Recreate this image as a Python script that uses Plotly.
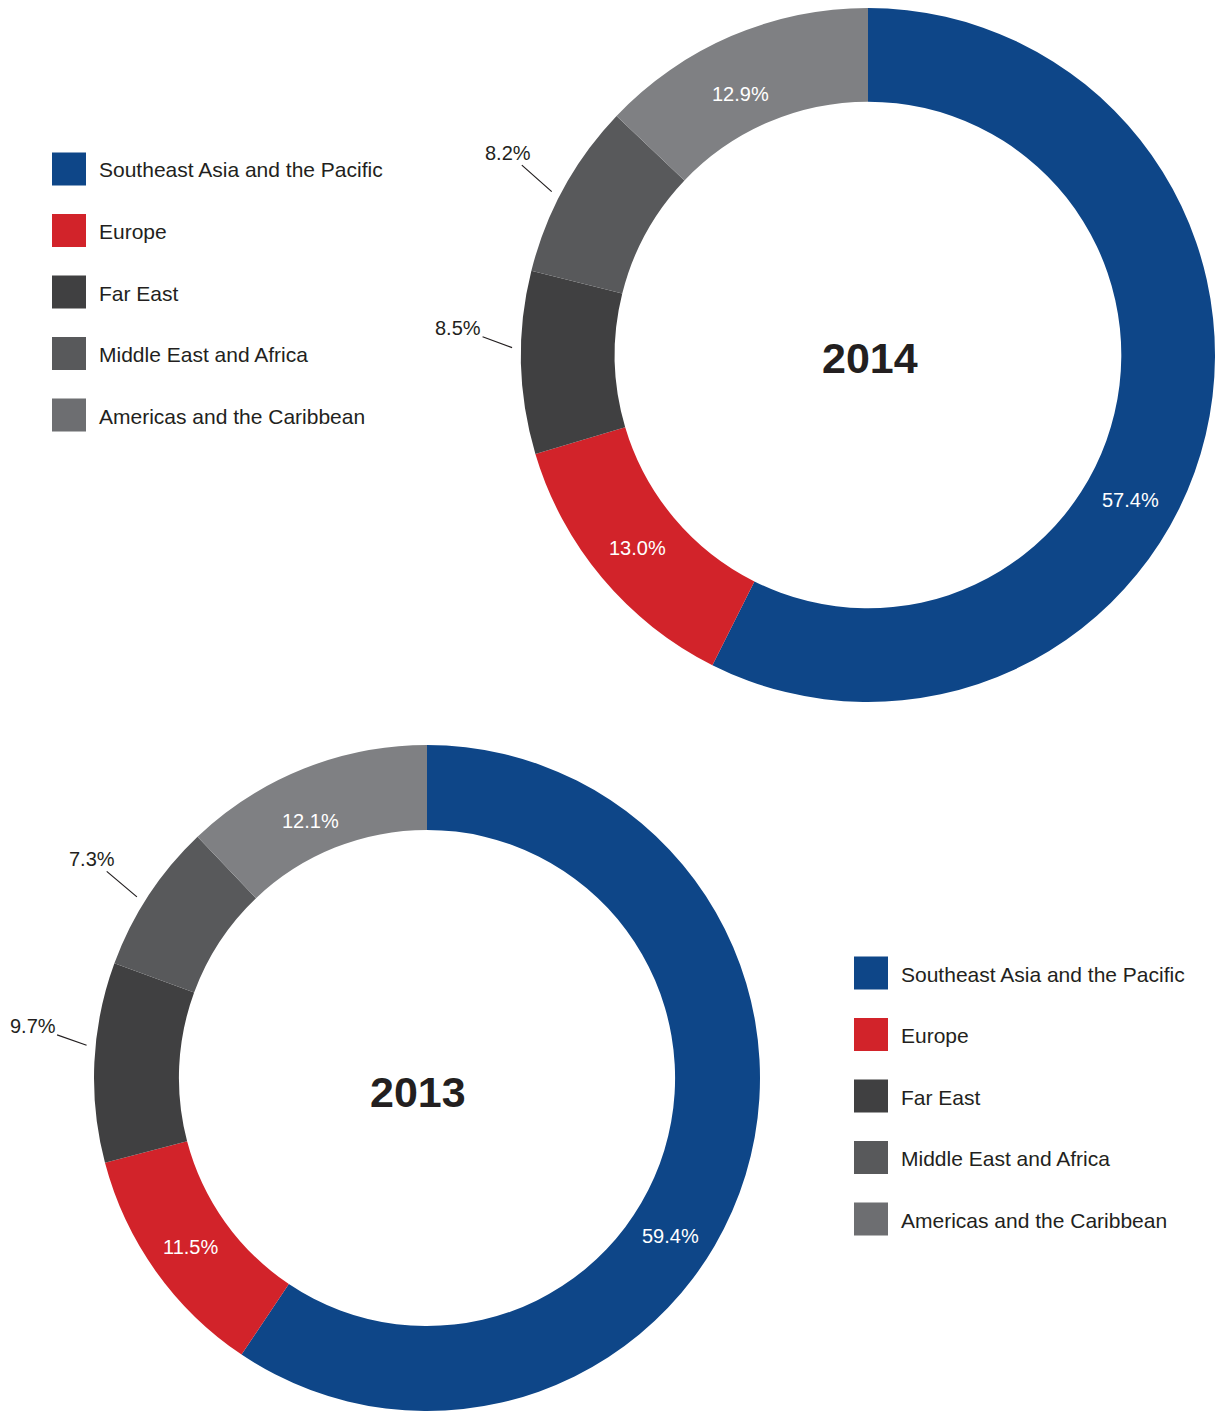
import math
import plotly.graph_objects as go

# ---- data ----
regions = ["Southeast Asia and the Pacific", "Europe", "Far East",
           "Middle East and Africa", "Americas and the Caribbean"]
share_2014 = [57.4, 13.0, 8.5, 8.2, 12.9]
share_2013 = [59.4, 11.5, 9.7, 7.3, 12.1]
years = ["2014", "2013"]

# ---- style ----
W, H = 1217, 1411
slice_colors = ["#0e4688", "#d2232a", "#404041", "#58595b", "#7f8083"]
legend_colors = ["#0e4688", "#d2232a", "#404041", "#58595b", "#6d6e71"]
text_col = "#231f20"
FONT = "Liberation Sans, Arial, Helvetica, sans-serif"
# where labels sit along each slice (fraction of its angular span)
label_frac = [0.575, 0.5, 0.58, 0.45, 0.44]
# radial position of inside labels (fraction between hole edge and rim)
label_rad = [0.5, 0.5, 0.5, 0.5, 0.4]

# pie layout in page pixels: center x, center y, radius, hole
pies = [
    dict(cx=868, cy=355, r=347, hole=0.73, vals=share_2014, year=years[0],
         yearpos=(870, 358),
         outside={2: (-54, -20), 3: (-44, -39)}),
    dict(cx=427, cy=1078, r=333, hole=0.745, vals=share_2013, year=years[1],
         yearpos=(418, 1092),
         outside={2: (-54, -19), 3: (-45, -38)}),
]
legends = [dict(x=52, y0=169), dict(x=854, y0=973)]
leg_step = 61.5


def px(x):
    return x / W


def py(y):
    return 1 - y / H


fig = go.Figure()
annotations = []
shapes = []

for p in pies:
    vals = p["vals"]
    texts = [f"{v:.1f}%" for v in vals]
    fig.add_trace(go.Pie(
        labels=regions, values=vals, textinfo="none",
        sort=False, direction="clockwise", rotation=0, hole=p["hole"],
        marker=dict(colors=slice_colors, line=dict(width=0)),
        domain=dict(x=[px(p["cx"] - p["r"]), px(p["cx"] + p["r"])],
                    y=[max(0, py(p["cy"] + p["r"])), py(p["cy"] - p["r"])]),
        showlegend=False, hoverinfo="label+percent",
    ))
    total = sum(vals)
    cum = 0.0
    for i, v in enumerate(vals):
        start = cum / total * 2 * math.pi
        span = v / total * 2 * math.pi
        cum += v
        ang = start + span * label_frac[i]
        if i in p["outside"]:
            rr = p["r"] + 9
            tx = p["cx"] + rr * math.sin(ang)
            ty = p["cy"] - rr * math.cos(ang)
            axo, ayo = p["outside"][i]
            annotations.append(dict(
                x=px(tx), y=py(ty), xref="paper", yref="paper",
                text=texts[i], showarrow=True, arrowhead=0, arrowwidth=1.2,
                arrowcolor=text_col, ax=axo, ay=ayo, standoff=0,
                font=dict(family=FONT, size=20, color=text_col)))
        else:
            rin = p["r"] * p["hole"]
            rr = rin + (p["r"] - rin) * label_rad[i]
            tx = p["cx"] + rr * math.sin(ang)
            ty = p["cy"] - rr * math.cos(ang)
            annotations.append(dict(
                x=px(tx), y=py(ty), xref="paper", yref="paper",
                xanchor="center", yanchor="middle",
                text=texts[i], showarrow=False,
                font=dict(family=FONT, size=20, color="white")))
    yx, yy = p["yearpos"]
    annotations.append(dict(
        x=px(yx), y=py(yy), xref="paper", yref="paper", text=f"<b>{p['year']}</b>",
        xanchor="center", yanchor="middle",
        showarrow=False, font=dict(family=FONT, size=43, color=text_col)))

for lg in legends:
    for i, name in enumerate(regions):
        cy = lg["y0"] + i * leg_step
        shapes.append(dict(type="rect", xref="paper", yref="paper",
                           x0=px(lg["x"]), x1=px(lg["x"] + 34),
                           y0=py(cy + 16.5), y1=py(cy - 16.5),
                           fillcolor=legend_colors[i], line=dict(width=0)))
        annotations.append(dict(
            x=px(lg["x"] + 45), y=py(cy + 1), xref="paper", yref="paper",
            xanchor="left", yanchor="middle", text=name, showarrow=False,
            font=dict(family=FONT, size=21, color=text_col)))

fig.update_layout(
    width=W, height=H, margin=dict(l=0, r=0, t=0, b=0),
    paper_bgcolor="white", plot_bgcolor="white",
    annotations=annotations, shapes=shapes, showlegend=False,
)

fig.write_html(
    "out.html",
    config={"displayModeBar": False},
    post_script="document.body.style.margin='0';document.body.style.overflow='hidden';",
)
